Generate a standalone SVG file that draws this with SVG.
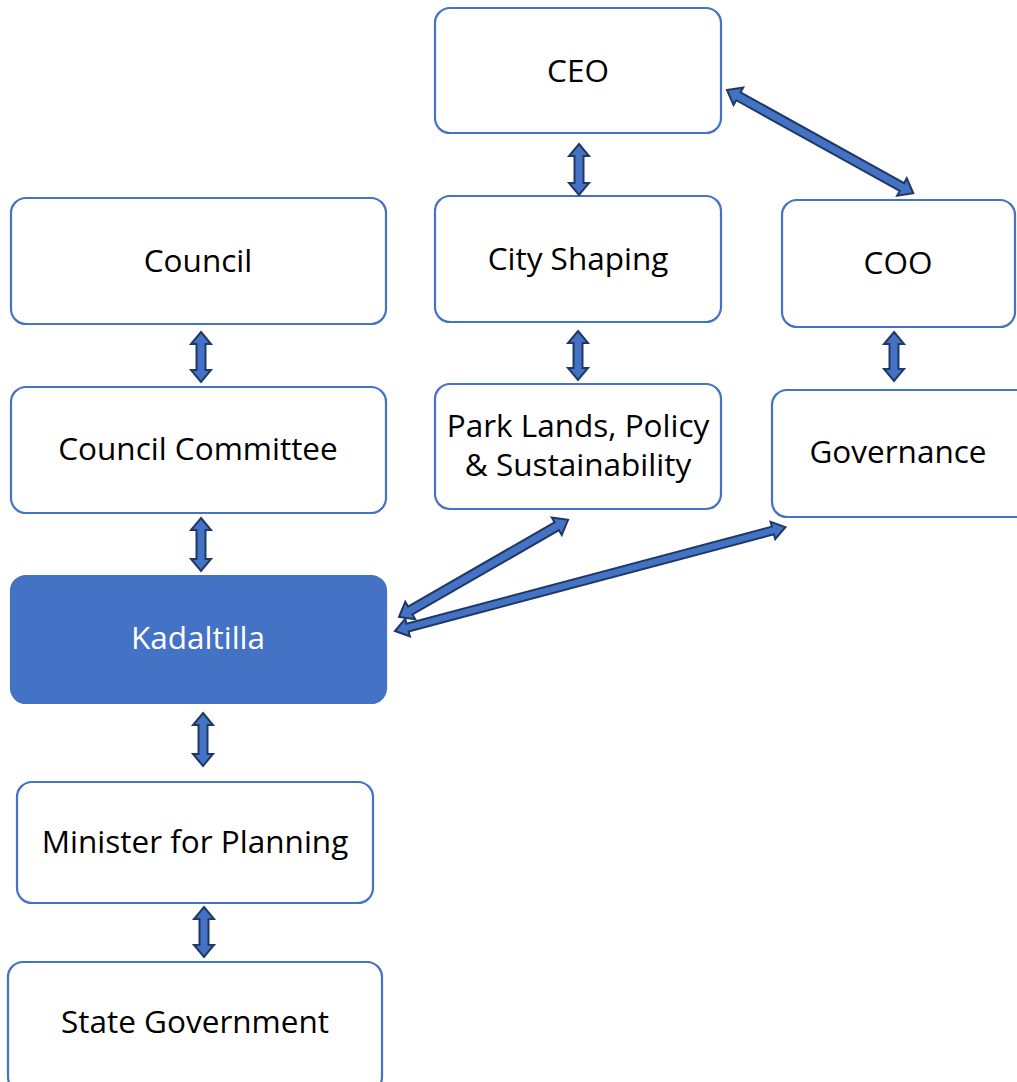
<svg xmlns="http://www.w3.org/2000/svg" width="1017" height="1082" viewBox="0 0 1017 1082">
<style>
.box{fill:#ffffff;stroke:#4472C4;stroke-width:2.2}
.fill{fill:#4472C4;stroke:#4472C4;stroke-width:2.2}
.t{font-family:"Open Sans","Noto Sans","Liberation Sans",sans-serif;font-size:31.5px;fill:#000000;text-anchor:middle}
.w{fill:#ffffff}
.arr{fill:#4472C4;stroke:#1F3864;stroke-width:2;stroke-linejoin:miter}
</style>
<rect width="1017" height="1082" fill="#ffffff"/>
<g id="ceo"><rect class="box" x="435" y="8" width="286" height="125" rx="15"/><text class="t" x="578" y="82">CEO</text></g>
<g id="council"><rect class="box" x="11" y="198" width="375" height="126" rx="15"/><text class="t" x="198" y="272">Council</text></g>
<g id="cityshaping"><rect class="box" x="435" y="196" width="286" height="126" rx="15"/><text class="t" x="578" y="270">City Shaping</text></g>
<g id="coo"><rect class="box" x="782" y="200" width="233" height="127" rx="15"/><text class="t" x="898" y="274">COO</text></g>
<g id="councilcommittee"><rect class="box" x="11" y="387" width="375" height="126" rx="15"/><text class="t" x="198" y="460">Council Committee</text></g>
<g id="parklands"><rect class="box" x="435" y="384" width="286" height="125" rx="15"/><text class="t" x="578" y="437">Park Lands, Policy</text><text class="t" x="578" y="476">&amp; Sustainability</text></g>
<g id="governance"><rect class="box" x="772" y="390" width="262" height="127" rx="15"/><text class="t" x="898" y="463">Governance</text></g>
<g id="kadaltilla"><rect class="fill" x="11" y="576" width="375" height="127" rx="15"/><text class="t w" x="198" y="649">Kadaltilla</text></g>
<g id="minister"><rect class="box" x="17" y="782" width="356" height="121" rx="15"/><text class="t" x="195" y="853">Minister for Planning</text></g>
<g id="stategov"><rect class="box" x="8" y="962" width="374" height="130" rx="15"/><text class="t" x="195" y="1033">State Government</text></g>
<g id="connectors">
<polygon class="arr" points="579,144 589,156 583.5,156 583.5,183 589,183 579,195 569,183 574.5,183 574.5,156 569,156"/>
<polygon class="arr" points="201,332 211,344 205.5,344 205.5,370 211,370 201,382 191,370 196.5,370 196.5,344 191,344"/>
<polygon class="arr" points="578,331 588,343 582.5,343 582.5,368 588,368 578,380 568,368 573.5,368 573.5,343 568,343"/>
<polygon class="arr" points="894,332 904,344 898.5,344 898.5,369 904,369 894,381 884,369 889.5,369 889.5,344 884,344"/>
<polygon class="arr" points="201,518 211,530 205.5,530 205.5,559 211,559 201,571 191,559 196.5,559 196.5,530 191,530"/>
<polygon class="arr" points="203,713 213,725 207.5,725 207.5,754 213,754 203,766 193,754 198.5,754 198.5,725 193,725"/>
<polygon class="arr" points="204,907 214,919 208.5,919 208.5,945 214,945 204,957 194,945 199.5,945 199.5,919 194,919"/>
<g transform="translate(727,90) rotate(29)"><polygon class="arr" points="0,0 13,-10 13,-4.5 200,-4.5 200,-10 213,0 200,10 200,4.5 13,4.5 13,10"/></g>
<g transform="translate(399,617) rotate(-29.9)"><polygon class="arr" points="0,0 13,-10 13,-4.5 182,-4.5 182,-10 195,0 182,10 182,4.5 13,4.5 13,10"/></g>
<g transform="translate(395,631) rotate(-14.9)"><polygon class="arr" points="0,0 13,-9 13,-4 391,-4 391,-9 404,0 391,9 391,4 13,4 13,9"/></g>
</g>
</svg>
